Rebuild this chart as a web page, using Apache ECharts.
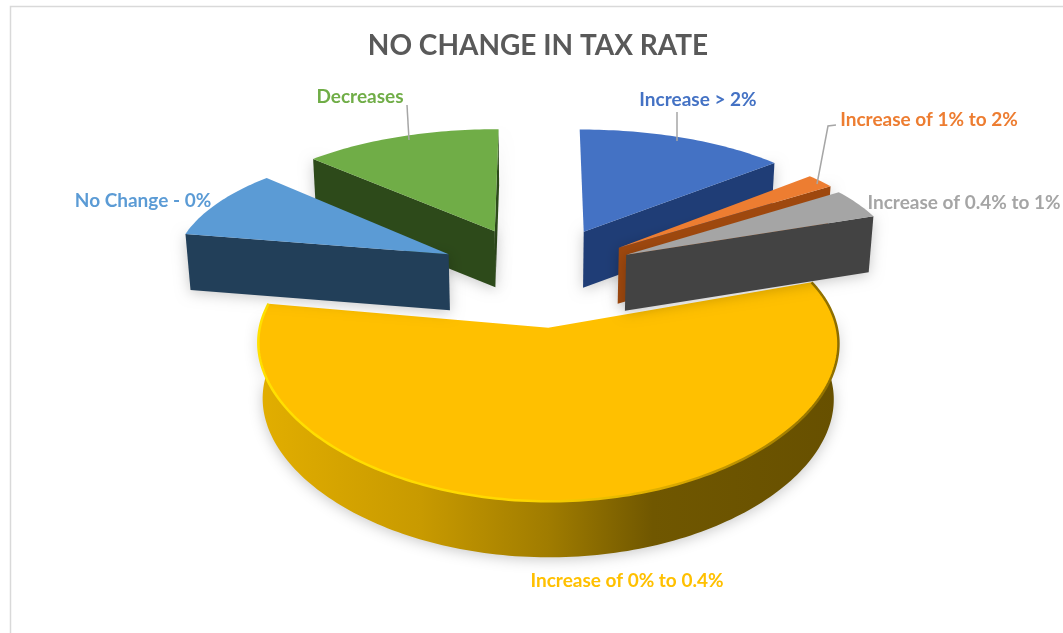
<!DOCTYPE html>
<html>
<head>
<meta charset="utf-8">
<style>html,body{margin:0;padding:0;background:#fff}#chart{width:1063px;height:633px}</style>
<script src="https://cdn.jsdelivr.net/npm/echarts@6/dist/echarts.min.js"></script>
</head>
<body>
<div id="chart"></div>
<script>
// Share of responses per tax-rate change bucket, clockwise from twelve o'clock.
const categories = ['Increase > 2%', 'Increase of 1% to 2%', 'Increase of 0.4% to 1%', 'Increase of 0% to 0.4%', 'No Change - 0%', 'Decreases'];
const values = [13.9, 1.9, 3.9, 58.0, 9.2, 13.1];
const chartTitle = 'NO CHANGE IN TAX RATE';

// Styling, one entry per category.
const topColors = ['#4472c4', '#ed7d31', '#a5a5a5', '#ffc000', '#5b9bd5', '#70ad47'];
const wallColors = ['#1f3d76', '#9e480e', '#434343', '#c99a00', '#223f59', '#2d4a1a'];
const explosion = [0.37, 0.34, 0.33, 0.40, 0.335, 0.37];
const paintOrder = [3, 5, 4, 0, 1, 2];
const labelBoxes = [[698, 100], [929, 120], [964, 203], [627, 581], [143, 201], [360, 97]];
const leaders = [
  [[677, 112], [677, 141]],
  [[836, 125], [828, 126], [817, 184]],
  null, null, null,
  [[407, 105], [409, 140]]
];

// Projection of the tilted pie onto the canvas.
const view = { cx: 538, cy: 273, a: 277, b: 129, h: 56, px: 0.10, py: 0.15, q: 0.015, spread: 1.09 };
function project(x, y, z) {
  const sx = 1 / (1 + view.px * y - view.q * z);
  const sy = 1 / (1 + view.py * y);
  return [view.cx + view.a * x * sx, view.cy - view.b * y * sy - view.h * z];
}

const total = values.reduce((sum, v) => sum + v, 0);
const startAngles = [];
values.reduce((acc, v, i) => { startAngles[i] = acc / total * Math.PI * 2; return acc + v; }, 0);

function rim(i, z) {
  const a0 = startAngles[i];
  const a1 = a0 + values[i] / total * Math.PI * 2;
  const mid = (a0 + a1) / 2;
  const ox = explosion[i] * Math.sin(mid) * view.spread;
  const oy = explosion[i] * Math.cos(mid);
  const n = Math.max(6, Math.ceil((a1 - a0) / 0.02));
  const pts = [];
  const front = [];
  for (let k = 0; k <= n; k++) {
    const t = a0 + (a1 - a0) * k / n;
    const p = project(ox + Math.sin(t), oy + Math.cos(t), z);
    pts.push(p);
    if (Math.cos(t) < 0.1) front.push(p);
  }
  return { pts, front, apex: project(ox, oy, z), a0, a1 };
}

function wallFill(i) {
  if (i !== 3) return wallColors[i];
  return new echarts.graphic.LinearGradient(0, 0, 1, 0, [
    { offset: 0, color: '#e2ae00' },
    { offset: 0.28, color: '#c89a00' },
    { offset: 0.5, color: '#a07c00' },
    { offset: 0.68, color: '#705700' },
    { offset: 1, color: '#675000' }
  ]);
}

function renderSlice(params, api) {
  const i = api.value(0);
  const top = rim(i, 0);
  const bottom = rim(i, -1);
  const children = [];
  const shadow = { shadowBlur: 14, shadowColor: 'rgba(0,0,0,0.22)', shadowOffsetY: 2 };

  // Outer wall, only where it turns toward the viewer.
  if (top.front.length > 1) {
    children.push({
      type: 'polygon',
      shape: { points: top.front.concat(bottom.front.slice().reverse()) },
      style: Object.assign({ fill: wallFill(i) }, shadow)
    });
  }

  // Cut faces that turn toward the viewer.
  const n = top.pts.length - 1;
  if (Math.cos(top.a1 + Math.PI / 2) < 0) {
    children.push({
      type: 'polygon',
      shape: { points: [top.apex, top.pts[n], bottom.pts[n], bottom.apex] },
      style: Object.assign({ fill: wallColors[i] }, shadow)
    });
  }
  if (Math.cos(top.a0 - Math.PI / 2) < 0) {
    children.push({
      type: 'polygon',
      shape: { points: [top.apex, top.pts[0], bottom.pts[0], bottom.apex] },
      style: Object.assign({ fill: wallColors[i] }, shadow)
    });
  }

  // Top face.
  children.push({
    type: 'polygon',
    shape: { points: [top.apex].concat(top.pts) },
    style: { fill: topColors[i] }
  });

  // Bevel along the large slice's rim, bright on the left and fading right.
  if (i === 3) {
    children.push({
      type: 'polyline',
      shape: { points: top.pts },
      style: {
        fill: null,
        lineWidth: 2.5,
        stroke: new echarts.graphic.LinearGradient(0, 0, 1, 0, [
          { offset: 0, color: '#ffe000' },
          { offset: 0.45, color: '#ffd800' },
          { offset: 0.72, color: '#d9a800' },
          { offset: 1, color: '#8a6c00' }
        ])
      }
    });
  }

  // Leader line and category label.
  if (leaders[i]) {
    children.push({
      type: 'polyline',
      shape: { points: leaders[i] },
      style: { fill: null, stroke: '#a6a6a6', lineWidth: 1.5 }
    });
  }
  children.push({
    type: 'text',
    style: {
      x: labelBoxes[i][0],
      y: labelBoxes[i][1],
      text: categories[i],
      align: 'center',
      verticalAlign: 'middle',
      fill: i === 3 ? '#ffc000' : topColors[i],
      font: 'bold 19px Lato, "Open Sans", sans-serif'
    }
  });

  return { type: 'group', children };
}

const chart = echarts.init(document.getElementById('chart'), null, { renderer: 'canvas' });
chart.setOption({
  animation: false,
  backgroundColor: '#ffffff',
  title: {
    text: chartTitle,
    left: 533,
    top: 27,
    textAlign: 'center',
    textStyle: { color: '#595959', fontFamily: 'Lato, "Open Sans", sans-serif', fontWeight: 'bold', fontSize: 28 }
  },
  graphic: [{
    type: 'polyline',
    silent: true,
    shape: { points: [[10.5, 633], [10.5, 6.5], [1063, 6.5]] },
    style: { fill: null, stroke: '#d9d9d9', lineWidth: 1.5 }
  }],
  series: [{
    type: 'custom',
    coordinateSystem: 'none',
    silent: true,
    clip: false,
    renderItem: renderSlice,
    data: paintOrder.map(i => [i, values[i]])
  }]
});
</script>
</body>
</html>
